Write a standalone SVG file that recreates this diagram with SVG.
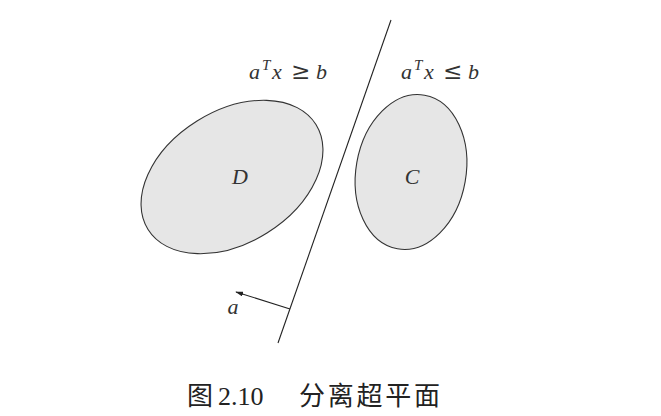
<svg xmlns="http://www.w3.org/2000/svg" width="661" height="416" viewBox="0 0 661 416">
<style>
.set{fill:#e6e6e6;stroke:#333;stroke-width:1.1}
.ln{stroke:#222;stroke-width:1.1;fill:none}
.m{font-family:"Liberation Serif","DejaVu Serif",serif;font-style:italic;font-size:22px;fill:#333}
.sup{font-size:15px}
.op{font-style:normal;font-family:"DejaVu Serif","Liberation Serif",serif;font-size:23px}
.cap{font-family:"Liberation Serif","Noto Sans CJK SC",serif;font-size:26px;fill:#222}
</style>
<defs>
<marker id="ah" viewBox="0 0 10 6" refX="9" refY="3" markerWidth="8" markerHeight="5" orient="auto" markerUnits="userSpaceOnUse">
<path d="M0,0 L10,3 L0,6 Z" fill="#222"/>
</marker>
</defs>
<g id="D">
<ellipse class="set" cx="232" cy="177" rx="99" ry="66" transform="rotate(-32 232 177)"/>
<text class="m" x="240" y="184" text-anchor="middle">D</text>
</g>
<g id="C">
<ellipse class="set" cx="411" cy="172" rx="55" ry="78" transform="rotate(10 411 172)"/>
<text class="m" x="412" y="184" text-anchor="middle">C</text>
</g>
<g id="connectors">
<line class="ln" x1="391" y1="20" x2="278" y2="343"/>
<line class="ln" x1="290" y1="309" x2="236" y2="292" marker-end="url(#ah)"/>
</g>
<g id="labels">
<text class="m" y="79"><tspan x="249">a</tspan><tspan class="sup" x="262" y="70">T</tspan><tspan x="272" y="79">x</tspan><tspan class="op" x="291">≥</tspan><tspan x="316">b</tspan></text>
<text class="m" y="79"><tspan x="401">a</tspan><tspan class="sup" x="414" y="70">T</tspan><tspan x="424" y="79">x</tspan><tspan class="op" x="443">≤</tspan><tspan x="468">b</tspan></text>
<text class="m" x="233" y="314" text-anchor="middle">a</text>
</g>
<text class="cap" y="405"><tspan x="187">图</tspan><tspan x="218">2.10</tspan><tspan x="299" textLength="141" lengthAdjust="spacing">分离超平面</tspan></text>
</svg>
